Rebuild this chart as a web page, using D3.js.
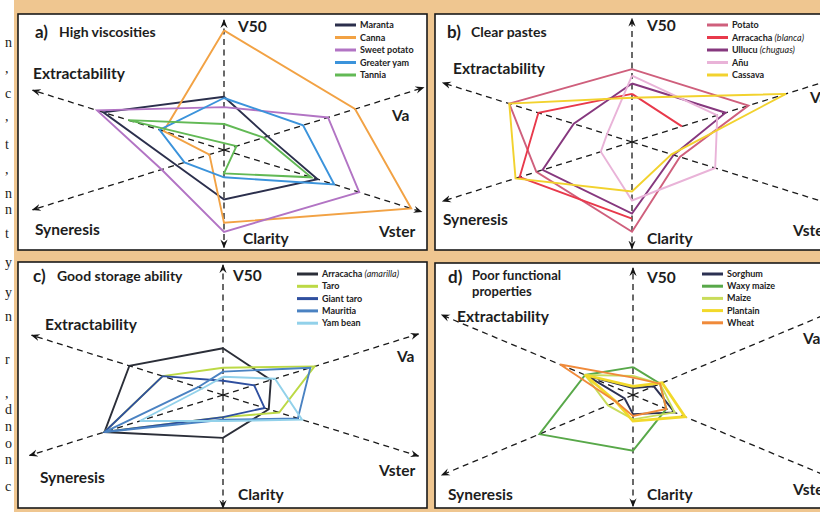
<!DOCTYPE html>
<html><head><meta charset="utf-8">
<script src="https://cdn.jsdelivr.net/npm/d3@7"></script>
<style>
html,body{margin:0;padding:0;background:#fff;}
svg{display:block;}
</style></head><body>
<svg id="chart" width="820" height="512"></svg>
<script>
// Radar axes, clockwise from the top
const axisNames = ["V50", "Va", "Vster", "Clarity", "Syneresis", "Extractability"];

// a) High viscosities
const seriesA = ["Maranta", "Canna", "Sweet potato", "Greater yam", "Tannia"];
const valuesA = [
  [41, 21, 45, 38, 23, 58],
  [92, 63, 90, 56, 7, 29],
  [33, 50, 65, 63, 30, 61],
  [40, 38, 53, 21, 19, 31],
  [20, 19, 42, 18, -6, 46]
];

// b) Clear pastes
const seriesB = ["Potato", "Arracacha (blanca)", "Ullucu (chuguas)", "Añu", "Cassava"];
const valuesB = [
  [56, 56, 23, 69, 46, 59],
  [37, 24, null, 59, 54, 45],
  [45, 45, 20, 55, 43, 28],
  [51, 41, 40, 45, 15, 12],
  [34, 74, 19, 38, 56, 59]
];

// c) Good storage ability
const seriesC = ["Arracacha (amarilla)", "Taro", "Giant taro", "Mauritia", "Yam bean"];
const valuesC = [
  [36, 23, 22, 33, 57, 45],
  [21, 44, 27, 17, 57, 29],
  [11, 15, 20, 17, 57, 29],
  [18, 42, 36, 19, 57, 12],
  [14, 25, 38, 20, 40, 10]
];

// d) Poor functional properties
const seriesD = ["Sorghum", "Waxy maize", "Maize", "Plantain", "Wheat"];
const valuesD = [
  [4, 10, 20, 11, 4, 22],
  [16, 13, 16, 32, 45, 23],
  [11, 13, 20, 14, 12, 23],
  [5, 14, 25, 15, 8, 23],
  [10, 13, 16, 12, 8, 35]
];

// Panel titles
const titles = [["a)", "High viscosities"], ["b)", "Clear pastes"],
                ["c)", "Good storage ability"], ["d)", "Poor functional", "properties"]];

// Line colours per panel
const colorsA = ["#2b2f4c", "#f2a244", "#b274c4", "#3b93db", "#62b955"];
const colorsB = ["#cf5f7c", "#e8394b", "#86387e", "#e9b3d8", "#f2d22e"];
const colorsC = ["#2b2e38", "#bcd945", "#2f4f9f", "#4a82c2", "#92d1ea"];
const colorsD = ["#2c3152", "#58a849", "#c9dc5a", "#f2d92a", "#f08a3a"];
const widthsD = [1.9, 1.9, 1.9, 2.8, 1.9];

// Layout of each panel: frame, radar centre, pixel length of 100 units on each axis direction
const layout = [
  { frame: [18, 14, 409, 236], c: [224, 150], ux: 208, uyD: 65, uyV: 130,
    reach: [100, 96, 95, 75, 92, 92],
    title: [35, 38], legend: [335, 25, 12.5],
    labels: [[238, 32], [392, 121], [379, 237], [243, 244], [35, 235], [33, 79]] },
  { frame: [435, 14, 400, 236], c: [632, 142], ux: 208, uyD: 65, uyV: 130,
    reach: [95, 100, 100, 82, 91, 91],
    title: [447, 38], legend: [707, 25, 12.5],
    labels: [[647, 31], [810, 103], [793, 236], [647, 244], [443, 225], [453, 74]] },
  { frame: [18, 262, 409, 246], c: [223, 395], ux: 208, uyD: 65, uyV: 130,
    reach: [100, 94, 94, 87, 93, 92],
    title: [33, 282], legend: [297, 274, 12.3],
    labels: [[233, 281], [397, 362], [379, 476], [238, 500], [40, 483], [45, 330]] },
  { frame: [435, 263, 400, 245], c: [633, 395], ux: 208, uyD: 87, uyV: 174,
    reach: [73, 100, 100, 64, 92, 92],
    title: [448, 283], legend: [702, 274, 12.2],
    labels: [[647, 283], [803, 344], [793, 495], [647, 500], [448, 500], [457, 322]] }
];

const panelSeries = [seriesA, seriesB, seriesC, seriesD];
const panelValues = [valuesA, valuesB, valuesC, valuesD];
const panelColors = [colorsA, colorsB, colorsC, colorsD];

// Body text fragments of the page column at the left edge
const marginGlyphs = [[47, "n"], [73, ","], [98, "c"], [121, ","], [149, "t"], [174, ","],
  [198, "n"], [214, "n"], [238, "t"], [267, "y"], [297, "y"], [321, "n"], [364, "r"],
  [398, ","], [414, "d"], [431, "n"], [448, "o"], [464, "n"], [491, "c"]];

const svg = d3.select("#chart");
const FONT = "Lato, 'Open Sans', sans-serif";

svg.append("rect").attr("width", 820).attr("height", 512).attr("fill", "#ffffff");
svg.append("g").selectAll("text").data(marginGlyphs).join("text")
  .attr("x", 5).attr("y", d => d[0]).text(d => d[1])
  .attr("font-family", "'Liberation Serif', serif").attr("font-size", 14).attr("fill", "#1a1a1a");
svg.append("rect").attr("x", 14).attr("y", 0).attr("width", 806).attr("height", 512)
  .attr("fill", "#efc690");

const defs = svg.append("defs");
defs.append("marker").attr("id", "arrow").attr("viewBox", "0 0 10 10")
  .attr("refX", 9).attr("refY", 5).attr("markerWidth", 9).attr("markerHeight", 9)
  .attr("markerUnits", "userSpaceOnUse").attr("orient", "auto")
  .append("path").attr("d", "M0,1 L10,5 L0,9 L3.5,5 Z").attr("fill", "#151515");

const r = d3.scaleLinear().domain([0, 100]).range([0, 1]);

layout.forEach((L, pi) => {
  const g = svg.append("g");
  const [fx, fy, fw, fh] = L.frame;
  g.append("rect").attr("x", fx).attr("y", fy).attr("width", fw).attr("height", fh)
    .attr("fill", "#fff").attr("stroke", "#1a1a1a").attr("stroke-width", 1.6);

  const dirs = [[0, -L.uyV], [L.ux, -L.uyD], [L.ux, L.uyD], [0, L.uyV], [-L.ux, L.uyD], [-L.ux, -L.uyD]];
  const pt = (k, v) => [L.c[0] + r(v) * dirs[k][0], L.c[1] + r(v) * dirs[k][1]];

  // dashed axes with arrowheads
  g.selectAll("line.axis").data(axisNames).join("line").attr("class", "axis")
    .attr("x1", L.c[0]).attr("y1", L.c[1])
    .attr("x2", (d, k) => pt(k, L.reach[k])[0]).attr("y2", (d, k) => pt(k, L.reach[k])[1])
    .attr("stroke", "#1a1a1a").attr("stroke-width", 1.3).attr("stroke-dasharray", "6,4.5")
    .attr("marker-end", "url(#arrow)");

  // axis names
  g.selectAll("text.axl").data(axisNames).join("text").attr("class", "axl")
    .attr("x", (d, k) => L.labels[k][0]).attr("y", (d, k) => L.labels[k][1])
    .text(d => d).attr("font-family", FONT).attr("font-weight", 700)
    .attr("font-size", 15.5).attr("fill", "#1d1d1d");

  // title
  const t = titles[pi];
  const twoLines = t.length > 2;
  g.append("text").attr("x", L.title[0]).attr("y", L.title[1]).text(t[0])
    .attr("font-family", FONT).attr("font-weight", 700).attr("font-size", 17).attr("fill", "#1d1d1d");
  const tt = g.append("text").attr("y", L.title[1] - (twoLines ? 3 : 1))
    .attr("font-family", FONT).attr("font-weight", 700)
    .attr("font-size", twoLines ? 13 : 14).attr("fill", "#1d1d1d");
  t.slice(1).forEach((line, li) => {
    tt.append("tspan").attr("x", L.title[0] + 24).attr("dy", li ? 16 : 0).text(line);
  });

  // series polygons
  const line = d3.line().defined(d => d != null).x(d => d[0]).y(d => d[1]).curve(d3.curveLinear);
  const vals = panelValues[pi], cols = panelColors[pi];
  vals.forEach((row, si) => {
    const pts = row.map((v, k) => v == null ? null : pt(k, v));
    pts.push(pts[0]);
    g.append("path").attr("d", line(pts)).attr("fill", "none")
      .attr("stroke", cols[si]).attr("stroke-width", pi === 3 ? widthsD[si] : 1.9)
      .attr("stroke-linejoin", "miter");
  });

  // legend
  const [lx, ly, ls] = L.legend;
  panelSeries[pi].forEach((name, si) => {
    const y = ly + si * ls;
    g.append("line").attr("x1", lx).attr("x2", lx + 21).attr("y1", y).attr("y2", y)
      .attr("stroke", cols[si]).attr("stroke-width", 3);
    const tx = g.append("text").attr("x", lx + 25).attr("y", y + 3)
      .attr("font-family", FONT).attr("font-weight", 700).attr("font-size", 9).attr("fill", "#222");
    const m = name.match(/^(.*?)(\(.*\))?$/);
    tx.append("tspan").text(m[1]);
    if (m[2]) tx.append("tspan").text(m[2]).attr("font-style", "italic").attr("font-weight", 400);
  });
});
</script>
</body></html>
